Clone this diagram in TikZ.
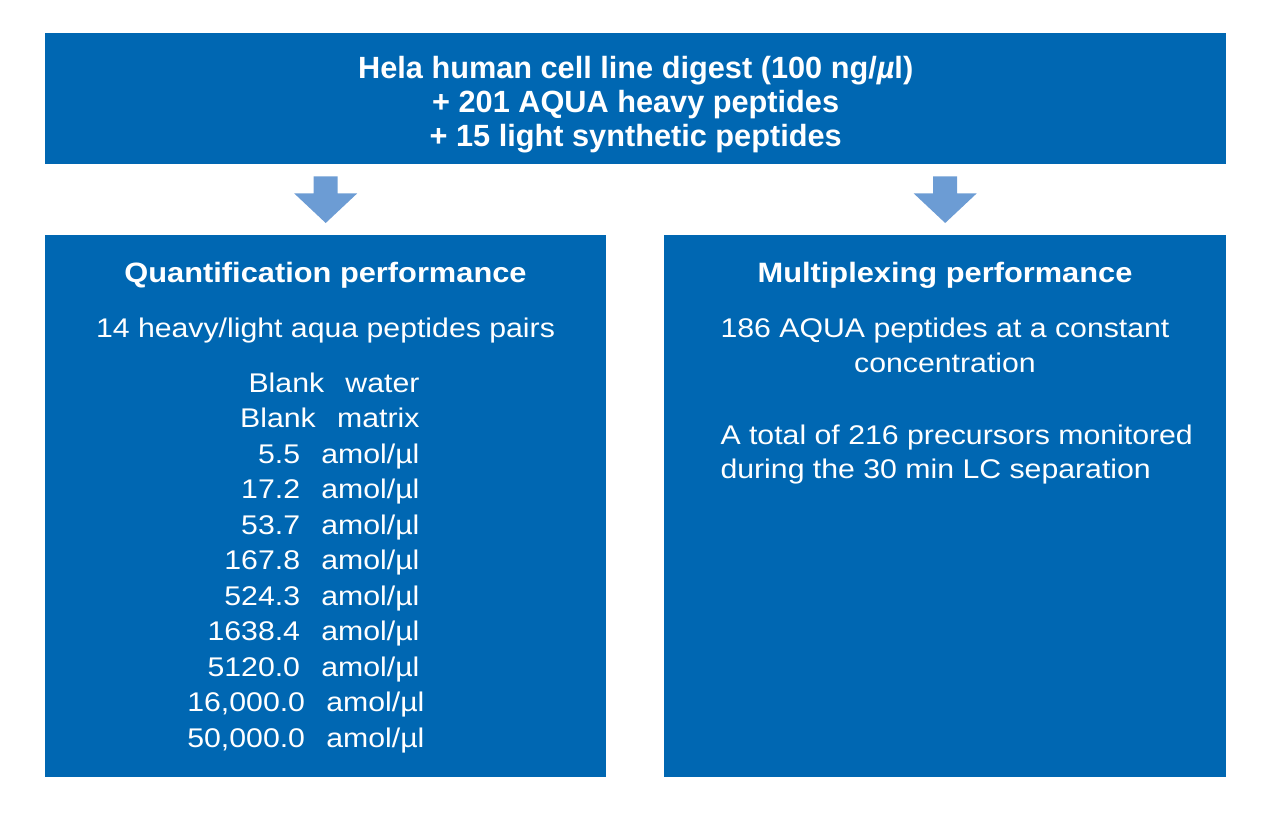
\documentclass[tikz,border=0pt]{standalone}
\usepackage{fontspec}
\setmainfont{Liberation Sans}[FakeStretch=1.12]
\newfontfamily\headbold{Liberation Sans Bold}[FakeStretch=1.1]
\newfontfamily\upbold{Liberation Sans Bold}
\usetikzlibrary{calc}
\definecolor{boxblue}{RGB}{0,103,178}
\definecolor{arrowblue}{RGB}{108,156,212}
\tikzset{
  panel/.style={fill=boxblue, draw=none, inner sep=0pt, anchor=north west},
  toptext/.style={text=white, font=\upbold\fontsize{30.7}{34}\selectfont, align=center},
  headtext/.style={text=white, font=\headbold\fontsize{28}{30}\selectfont, anchor=mid},
  bodytext/.style={text=white, font=\fontsize{27}{35}\selectfont, anchor=mid},
  bodyright/.style={bodytext, anchor=mid east},
  bodyleft/.style={bodytext, anchor=mid west},
  blockarrow/.style={fill=arrowblue, draw=none},
}
\begin{document}
\begin{tikzpicture}[x=1pt,y=-1pt]
\useasboundingbox (0,0) rectangle (1280,824);
% panels
\node[panel, minimum width=1181pt, minimum height=131pt] (top) at (45,33) {};
\node[panel, minimum width=561pt, minimum height=542pt] (qbox) at (45,235) {};
\node[panel, minimum width=562pt, minimum height=542pt] (mbox) at (664,235) {};
% top text
\node[toptext] (toplabel) at ($(top.center)+(0,6)$) {Hela human cell line digest (100 ng/{\itshape µ}l)\\+ 201 AQUA heavy peptides\\+ 15 light synthetic peptides};
% arrows
\foreach \b/\n in {qbox/qarrow, mbox/marrow}{
  \coordinate (\n-tip) at ($(\b.north)+(0,-12)$);
  \coordinate (\n-top) at (top.south -| \b.north);
  \path[blockarrow]
    ($(\n-top)+(-12,12)$) -- ($(\n-top)+(12,12)$) -- ($(\n-top)+(12,29)$)
    -- ($(\n-top)+(31.5,29)$) -- (\n-tip) -- ($(\n-top)+(-31.5,29)$)
    -- ($(\n-top)+(-12,29)$) -- cycle;
}
% left panel
\node[headtext] (qhead) at (325.5,280) {Quantification performance};
\node[bodytext] (qsub) at (325.5,335) {14 heavy/light aqua peptides pairs};
\node[bodyright] (q1) at (423,389.5) {Blank\ \ \,water};
\node[bodyright] (q2) at (423,425) {Blank\ \ \,matrix};
\node[bodyright] (q3) at (423,460.5) {5.5\ \ \,amol/µl};
\node[bodyright] (q4) at (423,496) {17.2\ \ \,amol/µl};
\node[bodyright] (q5) at (423,531.5) {53.7\ \ \,amol/µl};
\node[bodyright] (q6) at (423,567) {167.8\ \ \,amol/µl};
\node[bodyright] (q7) at (423,602.5) {524.3\ \ \,amol/µl};
\node[bodyright] (q8) at (423,638) {1638.4\ \ \,amol/µl};
\node[bodyright] (q9) at (423,673.5) {5120.0\ \ \,amol/µl};
\node[bodyright] (q10) at (428,709) {16,000.0\ \ \,amol/µl};
\node[bodyright] (q11) at (428,744.5) {50,000.0\ \ \,amol/µl};
% right panel
\node[headtext] (mhead) at (945,280) {Multiplexing performance};
\node[bodytext] (m1) at (945,335) {186 AQUA peptides at a constant};
\node[bodytext] (m2) at (945,370) {concentration};
\node[bodyleft] (m3) at (717,442) {A total of 216 precursors monitored};
\node[bodyleft] (m4) at (717,476) {during the 30 min LC separation};
\end{tikzpicture}
\end{document}
